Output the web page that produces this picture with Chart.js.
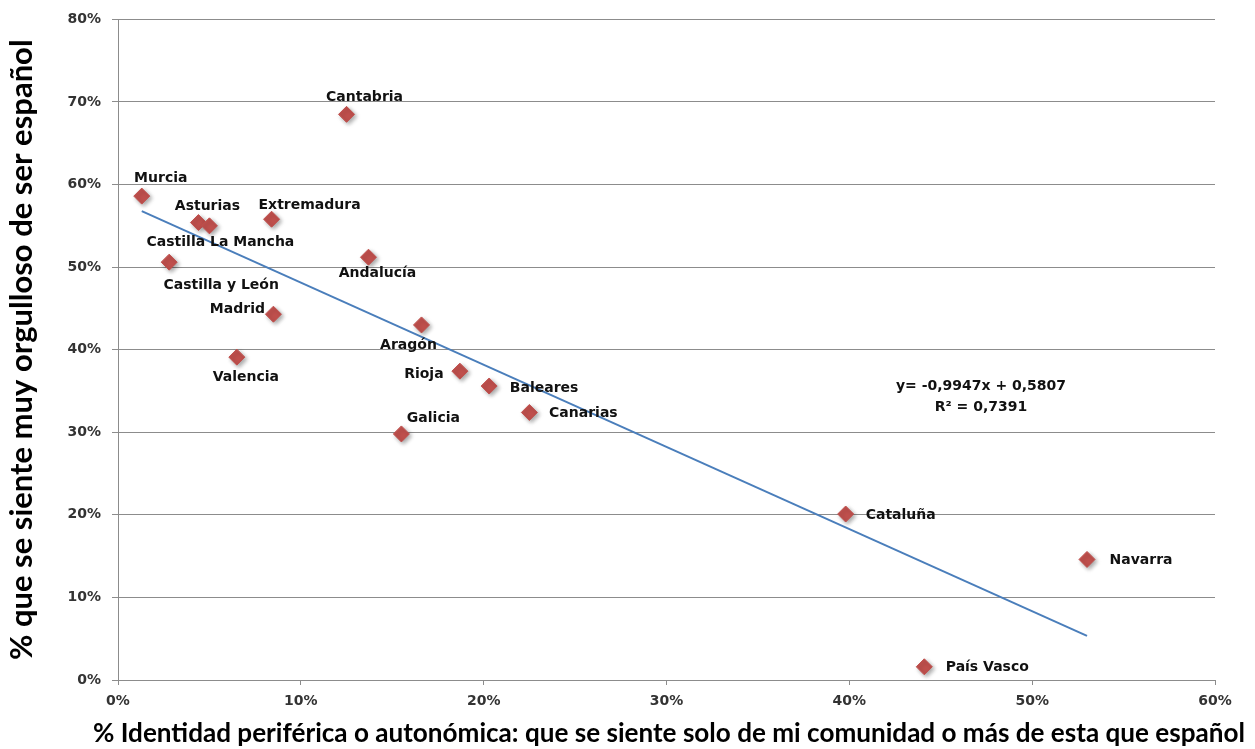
<!DOCTYPE html>
<html lang="es">
<head>
    <meta charset="UTF-8">
    <title>Identidad autonómica y orgullo de ser español</title>
    <style>
        body {
            margin: 0;
            background: #ffffff;
        }
        #wrap {
            width: 1255px;
            height: 749px;
        }
    </style>
    <script src="https://cdn.jsdelivr.net/npm/chart.js"></script>
</head>
<body>
    <div id="wrap"><canvas id="scatter" width="1255" height="749"></canvas></div>
    <script>
        // Comunidades autónomas
        const regions = [
            'Murcia', 'Cantabria', 'Asturias', 'Castilla La Mancha', 'Extremadura',
            'Castilla y León', 'Andalucía', 'Madrid', 'Valencia', 'Aragón',
            'Rioja', 'Baleares', 'Canarias', 'Galicia', 'Cataluña', 'Navarra', 'País Vasco'
        ];
        // % identidad periférica o autonómica (eje X)
        const identidadPeriferica = [1.3, 12.5, 4.4, 5.0, 8.4, 2.8, 13.7, 8.5, 6.5, 16.6, 18.7, 20.3, 22.5, 15.5, 39.8, 53.0, 44.1];
        // % muy orgulloso de ser español (eje Y)
        const orgullosoEspanol = [58.6, 68.5, 55.4, 55.0, 55.8, 50.6, 51.2, 44.3, 39.1, 43.0, 37.4, 35.6, 32.4, 29.8, 20.1, 14.6, 1.6];

        // tendencia lineal tal como aparece en el gráfico
        const trendSlope = -0.9947;
        const trendIntercept = 0.5807;
        const trendR2 = '0,7391';

        const xTicks = [0, 10, 20, 30, 40, 50, 60];
        const yTicks = [0, 10, 20, 30, 40, 50, 60, 70, 80];

        const xTitle = '% Identidad periférica o autonómica: que se siente solo de mi comunidad o más de esta que español';
        const yTitle = '% que se siente muy orgulloso de ser español';

        // where each label sits relative to its marker (px)
        const labelOffsets = [
            [19, -18], [18, -17], [9, -16], [11, 17], [38, -14],
            [52, 23], [9, 16], [-36, -5], [9, 20], [-13, 20],
            [-36, 3], [55, 2], [54, 1], [32, -16], [55, 1], [54, 1], [63, 1]
        ];

        const points = regions.map((r, i) => ({ x: identidadPeriferica[i], y: orgullosoEspanol[i] }));
        const xMin = Math.min(...identidadPeriferica);
        const xMax = Math.max(...identidadPeriferica);
        const trendAt = x => (trendSlope * x / 100 + trendIntercept) * 100;
        const trendPoints = [{ x: xMin, y: trendAt(xMin) }, { x: xMax, y: trendAt(xMax) }];

        const gridGrey = '#8c8c8c';
        const tickFont = { family: 'DejaVu Sans', weight: 'bold', size: 14 };

        const labelsPlugin = {
            id: 'regionLabels',
            beforeDatasetDraw(chart, args) {
                if (args.index === 0) {
                    const ctx = chart.ctx;
                    ctx.save();
                    ctx.shadowColor = 'rgba(0,0,0,0.35)';
                    ctx.shadowBlur = 4;
                    ctx.shadowOffsetX = 2;
                    ctx.shadowOffsetY = 2;
                }
            },
            afterDatasetDraw(chart, args) {
                if (args.index === 0) chart.ctx.restore();
            },
            afterDatasetsDraw(chart) {
                const ctx = chart.ctx;
                const meta = chart.getDatasetMeta(0);
                ctx.save();
                ctx.font = 'bold 14px "DejaVu Sans"';
                ctx.fillStyle = '#111';
                ctx.textAlign = 'center';
                ctx.textBaseline = 'middle';
                meta.data.forEach((pt, i) => {
                    ctx.fillText(regions[i], pt.x + labelOffsets[i][0], pt.y + labelOffsets[i][1]);
                });
                // trend equation
                const xs = chart.scales.x, ys = chart.scales.y;
                const ex = xs.getPixelForValue(47.2);
                ctx.fillText('y= ' + String(trendSlope).replace('.', ',') + 'x + ' + String(trendIntercept).replace('.', ','), ex, ys.getPixelForValue(35.6));
                ctx.fillText('R² = ' + trendR2, ex, ys.getPixelForValue(33.05));

                // x axis title: wider than the plot area, so drawn here
                ctx.font = 'bold 27px Lato';
                ctx.fillStyle = '#000';
                ctx.fillText(xTitle, 669, 733, 1152);
                ctx.restore();
            }
        };

        new Chart(document.getElementById('scatter'), {
            type: 'scatter',
            data: {
                datasets: [{
                    label: 'Comunidades',
                    data: points,
                    pointStyle: 'rectRot',
                    pointRadius: 8,
                    pointHoverRadius: 8,
                    backgroundColor: '#C0504D',
                    borderColor: '#C0504D',
                    borderWidth: 1,
                    order: 0
                }, {
                    label: 'Lineal',
                    data: trendPoints,
                    showLine: true,
                    borderColor: '#4A7EBB',
                    borderWidth: 2,
                    pointRadius: 0,
                    order: 1
                }]
            },
            options: {
                responsive: false,
                animation: false,
                layout: { padding: { top: 19, right: 40, left: 0, bottom: 0 } },
                plugins: {
                    legend: { display: false },
                    tooltip: { enabled: false }
                },
                scales: {
                    x: {
                        type: 'linear',
                        min: xTicks[0],
                        max: xTicks[xTicks.length - 1],
                        afterBuildTicks: s => { s.ticks = xTicks.map(v => ({ value: v })); },
                        afterFit: s => { s.height = 69; },
                        ticks: {
                            callback: v => v + '%',
                            font: tickFont,
                            color: '#333',
                            padding: 8
                        },
                        grid: {
                            drawOnChartArea: false,
                            tickLength: 5,
                            color: gridGrey
                        },
                        border: { color: gridGrey },
                        title: { display: false }
                    },
                    y: {
                        min: yTicks[0],
                        max: yTicks[yTicks.length - 1],
                        afterBuildTicks: s => { s.ticks = yTicks.map(v => ({ value: v })); },
                        afterFit: s => { s.width = 118; },
                        ticks: {
                            callback: v => v + '%',
                            font: tickFont,
                            color: '#333',
                            padding: 11
                        },
                        grid: {
                            tickLength: 6,
                            color: gridGrey
                        },
                        border: { color: gridGrey },
                        title: {
                            display: true,
                            text: yTitle,
                            font: { family: 'Lato', weight: 'bold', size: 31 },
                            color: '#000',
                            padding: { top: 3, bottom: 0 }
                        }
                    }
                }
            },
            plugins: [labelsPlugin]
        });
    </script>
</body>
</html>
